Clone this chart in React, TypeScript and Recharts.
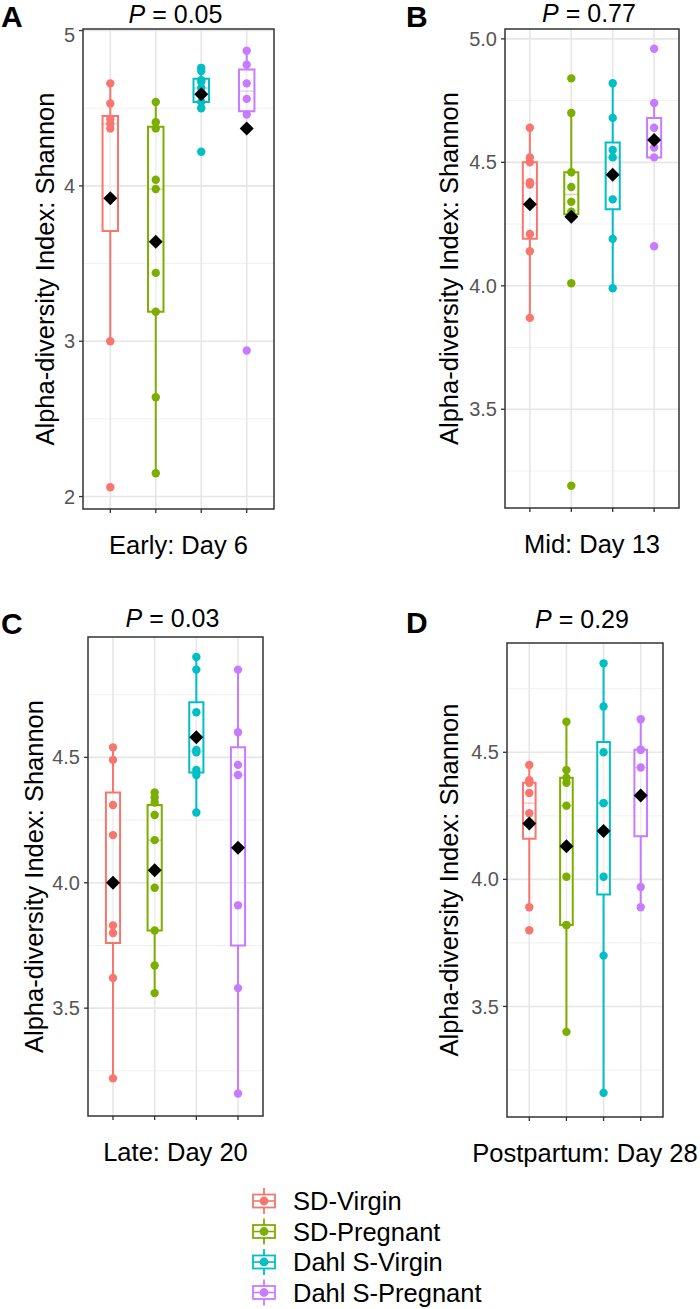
import React from 'react';
import {
  ComposedChart,
  XAxis,
  YAxis,
  CartesianGrid,
  Scatter,
  ReferenceArea,
  ReferenceLine,
} from 'recharts';

// ---------- shared ----------
const groups = ['SD-Virgin', 'SD-Pregnant', 'Dahl S-Virgin', 'Dahl S-Pregnant'];
const groupColors = ['#F8766D', '#7CAE00', '#00BFC4', '#C77CFF'];
const categoryPositions = [1, 2, 3, 4];

// ---------- Panel A: Early: Day 6 ----------
const aSDVirgin = [4.66, 4.53, 4.43, 4.4, 4.37, 3.0, 2.06];
const aSDPregnant = [4.54, 4.41, 4.37, 4.04, 3.98, 3.44, 3.19, 2.64, 2.15];
const aDahlVirgin = [4.76, 4.74, 4.68, 4.67, 4.63, 4.6, 4.54, 4.5, 4.22];
const aDahlPregnant = [4.87, 4.78, 4.66, 4.56, 4.46, 2.94];
const aLower = [3.0, 2.15, 4.5, 4.46];
const aQ1 = [3.71, 3.19, 4.54, 4.48];
const aMedian = [4.4, 3.98, 4.63, 4.61];
const aQ3 = [4.45, 4.38, 4.69, 4.75];
const aUpper = [4.66, 4.54, 4.76, 4.87];
const aMean = [3.92, 3.64, 4.59, 4.37];
const aTicks = [2, 3, 4, 5];
const aMinorTicks = [2.5, 3.5, 4.5];
const aDomain = [1.92, 5.01];

// ---------- Panel B: Mid: Day 13 ----------
const bSDVirgin = [4.64, 4.52, 4.5, 4.42, 4.41, 4.21, 4.14, 3.87];
const bSDPregnant = [4.84, 4.7, 4.46, 4.4, 4.34, 4.3, 4.01, 3.19];
const bDahlVirgin = [4.82, 4.68, 4.55, 4.52, 4.35, 4.19, 3.99];
const bDahlPregnant = [4.96, 4.74, 4.64, 4.56, 4.52, 4.16];
const bLower = [3.87, 4.29, 3.99, 4.52];
const bQ1 = [4.19, 4.29, 4.31, 4.52];
const bMedian = [4.415, 4.37, 4.52, 4.6];
const bQ3 = [4.5, 4.46, 4.58, 4.68];
const bUpper = [4.64, 4.7, 4.82, 4.74];
const bMean = [4.33, 4.28, 4.45, 4.59];
const bTicks = [3.5, 4.0, 4.5, 5.0];
const bMinorTicks = [3.25, 3.75, 4.25, 4.75];
const bDomain = [3.1, 5.04];

// ---------- Panel C: Late: Day 20 ----------
const cSDVirgin = [4.54, 4.49, 4.31, 4.19, 3.83, 3.8, 3.62, 3.22];
const cSDPregnant = [4.36, 4.34, 4.32, 4.27, 4.17, 3.98, 3.81, 3.67, 3.56];
const cDahlVirgin = [4.9, 4.85, 4.68, 4.53, 4.52, 4.45, 4.43, 4.28];
const cDahlPregnant = [4.85, 4.6, 4.47, 4.43, 3.91, 3.58, 3.16];
const cLower = [3.22, 3.56, 4.28, 3.16];
const cQ1 = [3.76, 3.81, 4.44, 3.75];
const cMedian = [4.01, 4.17, 4.525, 4.43];
const cQ3 = [4.36, 4.31, 4.72, 4.54];
const cUpper = [4.54, 4.36, 4.9, 4.85];
const cMean = [4.0, 4.05, 4.58, 4.14];
const cTicks = [3.5, 4.0, 4.5];
const cMinorTicks = [3.25, 3.75, 4.25, 4.75];
const cDomain = [3.07, 4.98];

// ---------- Panel D: Postpartum: Day 28 ----------
const dSDVirgin = [4.45, 4.39, 4.38, 4.34, 4.26, 4.22, 3.89, 3.8];
const dSDPregnant = [4.62, 4.43, 4.4, 4.38, 4.29, 4.01, 3.82, 3.82, 3.4];
const dDahlVirgin = [4.85, 4.68, 4.5, 4.3, 4.3, 4.01, 3.7, 3.16];
const dDahlPregnant = [4.63, 4.51, 4.51, 4.44, 4.33, 3.97, 3.89];
const dLower = [3.89, 3.4, 3.16, 3.89];
const dQ1 = [4.16, 3.82, 3.94, 4.17];
const dMedian = [4.3, 4.29, 4.3, 4.44];
const dQ3 = [4.38, 4.4, 4.54, 4.51];
const dUpper = [4.45, 4.62, 4.85, 4.63];
const dMean = [4.22, 4.13, 4.19, 4.33];
const dTicks = [3.5, 4.0, 4.5];
const dMinorTicks = [3.25, 3.75, 4.25, 4.75];
const dDomain = [3.065, 4.93];

// ---------- text ----------
const panelLetters = ['A', 'B', 'C', 'D'];
const pValues = ['0.05', '0.77', '0.03', '0.29'];
const xTitles = ['Early: Day 6', 'Mid: Day 13', 'Late: Day 20', 'Postpartum: Day 28'];
const yTitle = 'Alpha-diversity Index: Shannon';

const FONT = "'Liberation Sans', Arial, Helvetica, sans-serif";
const BOX_HALF = 0.17;
const CAP_HALF = 0.08;
const LINE_W = 2;

type PanelData = {
  points: number[][];
  lower: number[];
  q1: number[];
  median: number[];
  q3: number[];
  upper: number[];
  mean: number[];
  ticks: number[];
  minor: number[];
  domain: number[];
  fmt: (v: number) => string;
};

const panels: PanelData[] = [
  {
    points: [aSDVirgin, aSDPregnant, aDahlVirgin, aDahlPregnant],
    lower: aLower, q1: aQ1, median: aMedian, q3: aQ3, upper: aUpper, mean: aMean,
    ticks: aTicks, minor: aMinorTicks, domain: aDomain, fmt: (v) => String(v),
  },
  {
    points: [bSDVirgin, bSDPregnant, bDahlVirgin, bDahlPregnant],
    lower: bLower, q1: bQ1, median: bMedian, q3: bQ3, upper: bUpper, mean: bMean,
    ticks: bTicks, minor: bMinorTicks, domain: bDomain, fmt: (v) => v.toFixed(1),
  },
  {
    points: [cSDVirgin, cSDPregnant, cDahlVirgin, cDahlPregnant],
    lower: cLower, q1: cQ1, median: cMedian, q3: cQ3, upper: cUpper, mean: cMean,
    ticks: cTicks, minor: cMinorTicks, domain: cDomain, fmt: (v) => v.toFixed(1),
  },
  {
    points: [dSDVirgin, dSDPregnant, dDahlVirgin, dDahlPregnant],
    lower: dLower, q1: dQ1, median: dMedian, q3: dQ3, upper: dUpper, mean: dMean,
    ticks: dTicks, minor: dMinorTicks, domain: dDomain, fmt: (v) => v.toFixed(1),
  },
];

// plot-frame geometry (layout)
const frames = [
  { left: 83, top: 29, width: 191, height: 480 },
  { left: 505, top: 29, width: 174, height: 479 },
  { left: 88, top: 637, width: 175, height: 479 },
  { left: 507, top: 643, width: 156, height: 474 },
];
const titleBaselines = [23, 22, 627, 628];
const letterPos = [
  { x: 1, y: 27 },
  { x: 406, y: 27 },
  { x: 1, y: 634 },
  { x: 406, y: 633 },
];
const yTitleX = [54, 458, 43, 458];

const Y_AXIS_W = 60;
const M_TOP = 6;
const M_RIGHT = 6;
const X_AXIS_H = 14;

const Dot = (color: string) => (props: any) => (
  <circle cx={props.cx} cy={props.cy} r={4.2} fill={color} />
);
const Diamond = (props: any) => {
  const { cx, cy } = props;
  const s = 7;
  return (
    <polygon
      points={`${cx},${cy - s} ${cx + s},${cy} ${cx},${cy + s} ${cx - s},${cy}`}
      fill="#000000"
    />
  );
};

function Panel({ d, f }: { d: PanelData; f: { left: number; top: number; width: number; height: number } }) {
  const w = Y_AXIS_W + f.width + M_RIGHT;
  const h = M_TOP + f.height + X_AXIS_H;
  return (
    <div style={{ position: 'absolute', left: f.left - Y_AXIS_W, top: f.top - M_TOP }}>
      <ComposedChart
        width={w}
        height={h}
        margin={{ top: M_TOP, right: M_RIGHT, bottom: 0, left: 0 }}
      >
        <CartesianGrid
          horizontalValues={d.minor}
          vertical={false}
          stroke="#f0f0f0"
          strokeWidth={1}
        />
        <CartesianGrid
          horizontalValues={d.ticks}
          verticalValues={categoryPositions}
          stroke="#e6e6e6"
          strokeWidth={1.6}
        />
        <XAxis
          type="number"
          dataKey="x"
          domain={[0.4, 4.6]}
          ticks={categoryPositions}
          allowDataOverflow
          axisLine={false}
          tickLine={{ stroke: '#333333', strokeWidth: 1.3 }}
          tickSize={4}
          height={X_AXIS_H}
          tick={() => <g />}
        />
        <YAxis
          type="number"
          dataKey="y"
          domain={d.domain}
          ticks={d.ticks}
          allowDataOverflow
          axisLine={false}
          tickLine={{ stroke: '#333333', strokeWidth: 1.3 }}
          tickSize={4}
          tickMargin={4}
          width={Y_AXIS_W}
          tickFormatter={d.fmt}
          tick={{ fill: '#555555', fontSize: 20, fontFamily: FONT }}
        />
        {d.points.map((vals, g) => (
          <Scatter
            key={'pts' + g}
            name={groups[g]}
            data={vals.map((v) => ({ x: categoryPositions[g], y: v }))}
            fill={groupColors[g]}
            shape={Dot(groupColors[g])}
            isAnimationActive={false}
          />
        ))}
        {categoryPositions.map((x, g) => (
          <ReferenceArea
            key={'box' + g}
            x1={x - BOX_HALF}
            x2={x + BOX_HALF}
            y1={d.q1[g]}
            y2={d.q3[g]}
            fill="#ffffff"
            fillOpacity={0.35}
            stroke={groupColors[g]}
            strokeWidth={LINE_W}
            ifOverflow="visible"
          />
        ))}
        {categoryPositions.map((x, g) => (
          <ReferenceLine
            key={'med' + g}
            segment={[{ x: x - BOX_HALF, y: d.median[g] }, { x: x + BOX_HALF, y: d.median[g] }]}
            stroke={groupColors[g]}
            strokeOpacity={0.4}
            strokeWidth={1.4}
            ifOverflow="visible"
          />
        ))}
        {categoryPositions.map((x, g) => (
          <ReferenceLine
            key={'wu' + g}
            segment={[{ x, y: d.q3[g] }, { x, y: d.upper[g] }]}
            stroke={groupColors[g]}
            strokeWidth={LINE_W}
            ifOverflow="visible"
          />
        ))}
        {categoryPositions.map((x, g) => (
          <ReferenceLine
            key={'wl' + g}
            segment={[{ x, y: d.lower[g] }, { x, y: d.q1[g] }]}
            stroke={groupColors[g]}
            strokeWidth={LINE_W}
            ifOverflow="visible"
          />
        ))}
        {categoryPositions.map((x, g) => (
          <ReferenceLine
            key={'cu' + g}
            segment={[{ x: x - CAP_HALF, y: d.upper[g] }, { x: x + CAP_HALF, y: d.upper[g] }]}
            stroke={groupColors[g]}
            strokeWidth={LINE_W}
            ifOverflow="visible"
          />
        ))}
        {categoryPositions.map((x, g) => (
          <ReferenceLine
            key={'cl' + g}
            segment={[{ x: x - CAP_HALF, y: d.lower[g] }, { x: x + CAP_HALF, y: d.lower[g] }]}
            stroke={groupColors[g]}
            strokeWidth={LINE_W}
            ifOverflow="visible"
          />
        ))}
        <Scatter
          name="mean"
          data={d.mean.map((m, g) => ({ x: categoryPositions[g], y: m }))}
          fill="#000000"
          shape={Diamond}
          isAnimationActive={false}
        />
        <ReferenceArea
          x1={0.4}
          x2={4.6}
          y1={d.domain[0]}
          y2={d.domain[1]}
          fill="none"
          stroke="#333333"
          strokeWidth={1.5}
          ifOverflow="visible"
        />
      </ComposedChart>
    </div>
  );
}

function Overlay() {
  const legendBaselines = [1210, 1240.5, 1271, 1301.5];
  return (
    <svg
      width={700}
      height={1309}
      style={{ position: 'absolute', left: 0, top: 0, pointerEvents: 'none' }}
      fontFamily={FONT}
    >
      {frames.map((f, i) => {
        const cx = f.left + f.width / 2;
        const cy = f.top + f.height / 2;
        return (
          <g key={'t' + i}>
            <text x={letterPos[i].x} y={letterPos[i].y} fontSize={30} fontWeight="bold" fill="#000">
              {panelLetters[i]}
            </text>
            <text x={cx - 3} y={titleBaselines[i]} fontSize={25} textAnchor="middle" fill="#000">
              <tspan fontStyle="italic">P</tspan>
              {' = ' + pValues[i]}
            </text>
            <text x={cx} y={f.top + f.height + 45} fontSize={25.5} textAnchor="middle" fill="#000">
              {xTitles[i]}
            </text>
            <text
              transform={`translate(${yTitleX[i]},${cy}) rotate(-90)`}
              fontSize={25.5}
              textAnchor="middle"
              fill="#000"
            >
              {yTitle}
            </text>
          </g>
        );
      })}
      {groups.map((name, g) => {
        const by = legendBaselines[g];
        const cy = by - 9;
        const kx = 264;
        return (
          <g key={'lg' + g}>
            <line x1={kx} x2={kx} y1={cy - 13} y2={cy + 13} stroke={groupColors[g]} strokeWidth={1.8} />
            <rect x={kx - 11} y={cy - 6.5} width={22} height={13} fill="#fff" stroke={groupColors[g]} strokeWidth={1.8} />
            <line x1={kx - 11} x2={kx + 11} y1={cy} y2={cy} stroke={groupColors[g]} strokeWidth={1.6} />
            <circle cx={kx} cy={cy} r={4.4} fill={groupColors[g]} />
            <text x={293} y={by} fontSize={25.5} fill="#000">
              {name}
            </text>
          </g>
        );
      })}
    </svg>
  );
}

export default function App() {
  return (
    <div
      style={{
        position: 'absolute',
        left: 0,
        top: 0,
        width: 700,
        height: 1309,
        background: '#ffffff',
        fontFamily: FONT,
        overflow: 'hidden',
      }}
    >
      {panels.map((d, i) => (
        <Panel key={i} d={d} f={frames[i]} />
      ))}
      <Overlay />
    </div>
  );
}
